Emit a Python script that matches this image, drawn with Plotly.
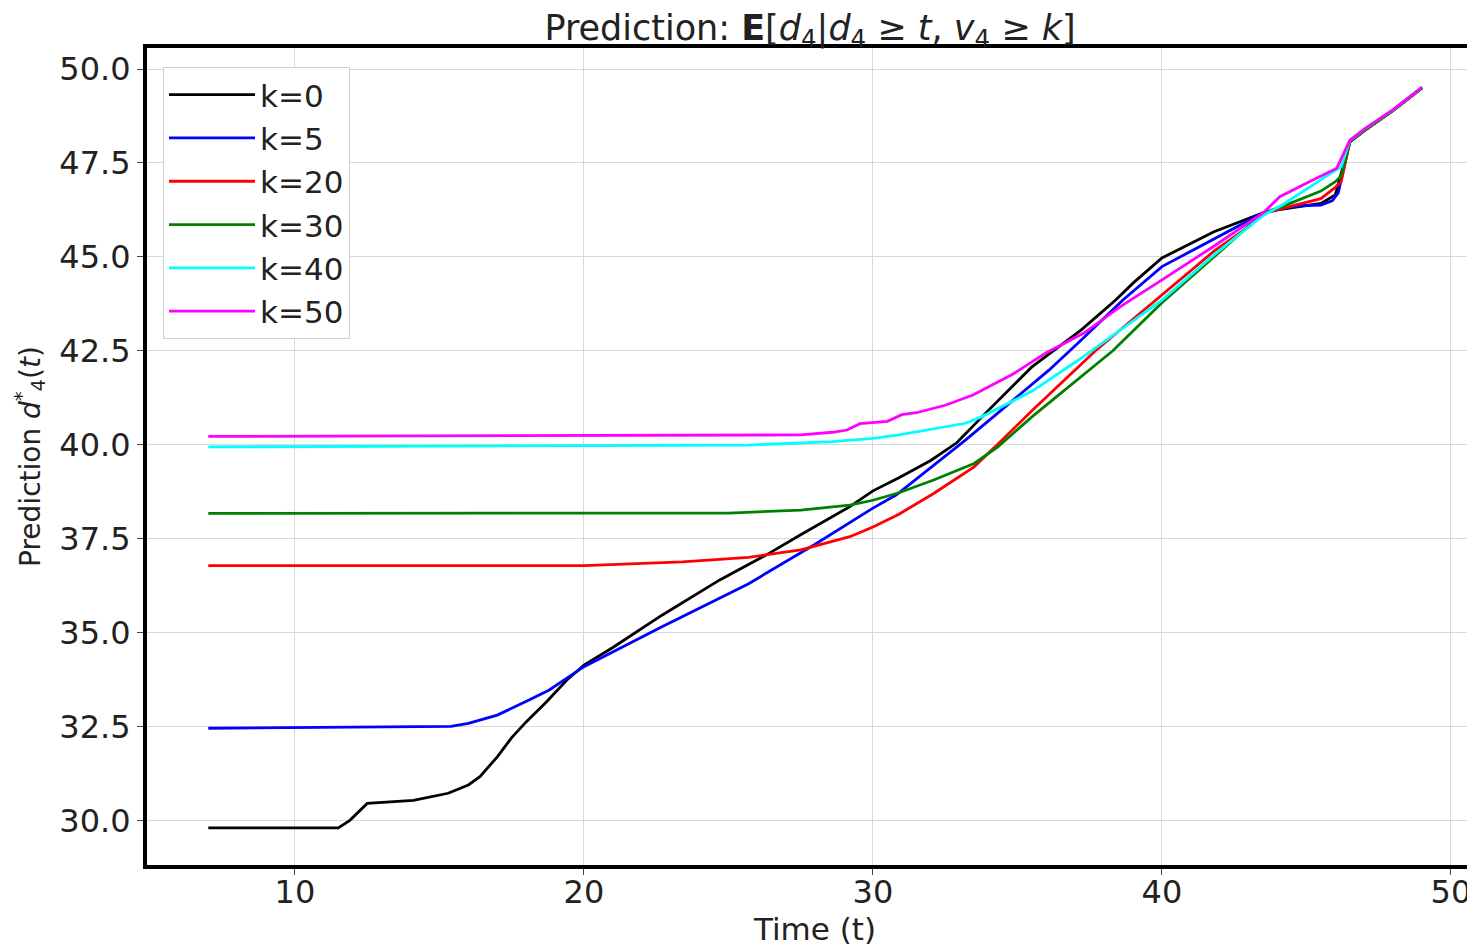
import plotly.graph_objects as go

# ---- data ----
t_k0 = [7, 11.5, 11.9, 12.5, 14.1, 15.3, 16.0, 16.4, 17.0, 17.5, 18.0, 18.7, 19.4, 20.0, 21.0, 22.7,
        24.7, 26.3, 27.5, 29.2, 30.0, 30.9, 32.0, 32.9, 33.9, 35.5, 37.2, 38.4, 39.0, 40.0, 41.8, 43.0,
        43.5, 44.0, 45.0, 45.5, 46.0, 46.5, 47.0, 48.0, 49.0]
y_k0 = [29.8, 29.8, 30.0, 30.45, 30.53, 30.72, 30.94, 31.16, 31.69, 32.2, 32.62, 33.15, 33.73, 34.13, 34.6, 35.46,
        36.4, 37.06, 37.6, 38.35, 38.77, 39.12, 39.58, 40.05, 40.84, 42.07, 43.05, 43.85, 44.3, 44.97, 45.67, 46.03,
        46.17, 46.25, 46.35, 46.42, 46.65, 48.06, 48.36, 48.9, 49.5]

t_k5 = [7, 15.4, 16.0, 17.0, 18.1, 18.8, 20.0, 22.7, 25.7, 28.0, 30.0, 30.8, 33.2, 36.1, 37.2, 38.65,
        40.0, 42.35, 43.5, 44.2, 44.8, 45.5, 45.9, 46.1, 46.5, 47.0, 48.0, 49.0]
y_k5 = [32.45, 32.5, 32.58, 32.8, 33.2, 33.47, 34.09, 35.15, 36.3, 37.35, 38.31, 38.66, 40.12, 41.99, 42.78, 43.85,
        44.74, 45.71, 46.17, 46.3, 46.36, 46.38, 46.5, 46.7, 48.06, 48.36, 48.9, 49.5]

t_k20 = [7, 20, 23.4, 25.7, 27.5, 29.2, 30.0, 30.9, 32.1, 33.5, 34.3, 35.5, 37.7, 40.0, 41.8, 43.0,
         43.5, 44.2, 45.0, 45.5, 46.0, 46.2, 46.5, 47.0, 48.0, 49.0]
y_k20 = [36.78, 36.78, 36.88, 37.0, 37.2, 37.55, 37.81, 38.15, 38.7, 39.41, 40.0, 40.9, 42.5, 44.0, 45.15, 45.8,
         46.17, 46.3, 46.45, 46.55, 46.85, 47.0, 48.06, 48.36, 48.9, 49.5]

t_k30 = [7, 25.0, 27.5, 29.2, 30.0, 30.9, 32.1, 33.5, 34.3, 35.5, 38.3, 40.0, 42.35, 43.5, 44.2, 45.0,
         45.5, 46.0, 46.2, 46.5, 47.0, 48.0, 49.0]
y_k30 = [38.17, 38.18, 38.26, 38.39, 38.52, 38.72, 39.06, 39.5, 39.93, 40.74, 42.5, 43.78, 45.37, 46.17, 46.35, 46.6,
         46.75, 47.0, 47.15, 48.06, 48.36, 48.9, 49.5]

t_k40 = [7, 25.7, 28.6, 30.0, 30.9, 33.2, 33.7, 35.5, 37.2, 40.0, 41.8, 43.5, 44.2, 45.0, 45.5, 46.0,
         46.2, 46.5, 47.0, 48.0, 49.0]
y_k40 = [39.94, 39.99, 40.08, 40.17, 40.26, 40.57, 40.72, 41.42, 42.3, 43.85, 45.05, 46.1, 46.4, 46.8, 47.05, 47.3,
         47.4, 48.1, 48.4, 48.92, 49.52]

t_k50 = [7, 25.7, 27.5, 28.6, 29.1, 29.55, 30.5, 31.0, 31.5, 32.5, 33.46, 34.85, 35.5, 36.0, 37.3, 38.55,
         40.03, 41.77, 43.5, 44.08, 45.1, 46.05, 46.5, 47.0, 48.0, 49.0]
y_k50 = [40.22, 40.24, 40.26, 40.33, 40.39, 40.56, 40.62, 40.8, 40.85, 41.05, 41.32, 41.88, 42.2, 42.45, 42.97, 43.67,
         44.4, 45.27, 46.17, 46.6, 47.0, 47.36, 48.1, 48.4, 48.92, 49.52]

labels = ["k=0", "k=5", "k=20", "k=30", "k=40", "k=50"]
colors = ["#000000", "#0000ff", "#ff0000", "#008000", "#00ffff", "#ff00ff"]
series_t = [t_k0, t_k5, t_k20, t_k30, t_k40, t_k50]
series_y = [y_k0, y_k5, y_k20, y_k30, y_k40, y_k50]

x_ticks = [10, 20, 30, 40, 50]
y_ticks = [30.0, 32.5, 35.0, 37.5, 40.0, 42.5, 45.0, 47.5, 50.0]

FONT = "DejaVu Sans"
TXT = "#222222"

W, H = 1475, 944
ML, MT, MB = 139, 40, 87          # page body adds an 8px offset
PW, PH = W - ML, H - MT - MB

fig = go.Figure()
for lab, col, tt, yy in zip(labels, colors, series_t, series_y):
    fig.add_trace(go.Scatter(x=tt, y=yy, mode="lines", name=lab, legendgroup=lab,
                             line=dict(color=col, width=2.8)))

fig.update_layout(
    width=W, height=H,
    margin=dict(l=ML, r=0, t=MT, b=MB),
    paper_bgcolor="white", plot_bgcolor="white",
    font=dict(family=FONT, size=32, color=TXT),
    title=dict(
        text="Prediction: <b>E</b>[<i>d</i><sub>4</sub>|<i>d</i><sub>4</sub> ≥ <i>t</i>, <i>v</i><sub>4</sub> ≥ <i>k</i>]",
        x=802 / W, xanchor="center", y=1 - 19.5 / H, yanchor="middle",
        font=dict(family=FONT, size=35, color=TXT)),
    legend=dict(x=16 / PW, y=1 - 19 / PH, xanchor="left", yanchor="top",
                bgcolor="white", bordercolor="#d0d0d0", borderwidth=1,
                font=dict(family=FONT, size=31, color=TXT),
                itemwidth=86, tracegroupgap=0),
    showlegend=True,
)
fig.update_xaxes(
    range=[4.88, 51.11], tickvals=x_ticks, ticktext=[str(v) for v in x_ticks],
    showgrid=True, gridcolor="#d9d9d9", gridwidth=1.2, zeroline=False,
    showline=True, linecolor="black", linewidth=4, mirror=True,
    ticks="outside", ticklen=6, tickcolor="#444444", automargin=False,
    ticklabelstandoff=-10,
    tickfont=dict(family=FONT, size=32, color=TXT),
    title=dict(text="Time (t)", standoff=1, font=dict(family=FONT, size=31, color=TXT)),
)
fig.update_yaxes(
    range=[28.81, 50.56], tickvals=y_ticks, ticktext=[f"{v:.1f}" for v in y_ticks],
    showgrid=True, gridcolor="#d9d9d9", gridwidth=1.2, zeroline=False,
    showline=True, linecolor="black", linewidth=4, mirror=False,
    ticks="outside", ticklen=6, tickcolor="#444444", automargin=False,
    tickfont=dict(family=FONT, size=32, color=TXT),
    title=dict(text="Prediction <i>d</i><sup>*</sup><sub>4</sub>(<i>t</i>)", standoff=12,
               font=dict(family=FONT, size=28, color=TXT)),
)

fig.write_html("out.html")
